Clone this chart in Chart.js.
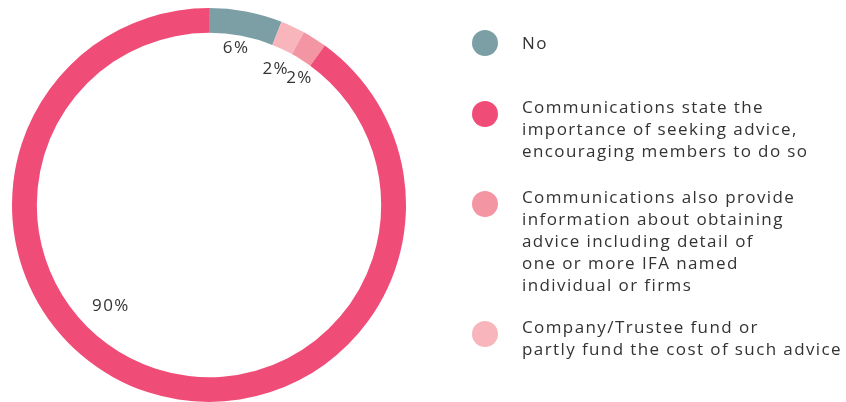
<!DOCTYPE html>
<html>
<head>
<meta charset="utf-8">
<script src="https://cdn.jsdelivr.net/npm/chart.js@4.4.1/dist/chart.umd.min.js"></script>
<style>
  html, body { margin: 0; padding: 0; background: #fff; }
  #wrap { position: relative; width: 846px; height: 402px; overflow: hidden; }
  #adviceChart { position: absolute; left: 0; top: 0; }
  #legend { position: absolute; left: 0; top: 0; width: 846px; height: 402px; pointer-events: none;
    font-family: "Open Sans", sans-serif; font-size: 17px; line-height: 22px; color: #333;
    letter-spacing: 1.4px; }
  .item { position: absolute; left: 472px; width: 374px; }
  .dot { position: absolute; left: 0; width: 26px; height: 26px; border-radius: 50%; }
  .txt { position: absolute; left: 50px; white-space: nowrap; }
</style>
</head>
<body>
<div id="wrap">
  <canvas id="adviceChart" width="846" height="402"></canvas>
  <div id="legend"></div>
</div>
<script>
  "use strict";

  // legend order
  const categories = [
    ["No"],
    ["Communications state the", "importance of seeking advice,", "encouraging members to do so"],
    ["Communications also provide", "information about obtaining", "advice including detail of", "one or more IFA named", "individual or firms"],
    ["Company/Trustee fund or", "partly fund the cost of such advice"]
  ];
  const shares = [6, 90, 2, 2];
  const colors = ["#7b9fa5", "#f04c78", "#f495a3", "#f8b5bc"];

  // order of the slices going clockwise from 12 o'clock
  const ringOrder = [0, 3, 2, 1];

  // per-slice label tweak: [angle shift in degrees, distance inside the hole]
  const labelNudge = [[-1, 13], [26, 31], [3, 16], [1, 21]];

  // first text line centre of each legend entry
  const legendTop = [43, 107, 197, 327];

  const ringLabelPlugin = {
    id: "ringLabels",
    afterDatasetsDraw(chart) {
      const ctx = chart.ctx;
      const arcs = chart.getDatasetMeta(0).data;
      ctx.save();
      ctx.font = "17px 'Open Sans', sans-serif";
      ctx.letterSpacing = "1.4px";
      ctx.fillStyle = "#333";
      ctx.textAlign = "center";
      ctx.textBaseline = "middle";
      arcs.forEach((arc, i) => {
        const idx = ringOrder[i];
        const p = arc.getProps(["x", "y", "startAngle", "endAngle", "innerRadius"], true);
        const a = (p.startAngle + p.endAngle) / 2 + labelNudge[idx][0] * Math.PI / 180;
        const r = p.innerRadius - labelNudge[idx][1];
        ctx.fillText(shares[idx] + "%", p.x + Math.cos(a) * r, p.y + Math.sin(a) * r);
      });
      ctx.restore();
    }
  };

  const canvas = document.getElementById("adviceChart");
  new Chart(canvas.getContext("2d"), {
    type: "doughnut",
    data: {
      labels: ringOrder.map((i) => categories[i].join(" ")),
      datasets: [
        {
          data: ringOrder.map((i) => shares[i]),
          backgroundColor: ringOrder.map((i) => colors[i]),
          borderWidth: 0
        }
      ]
    },
    options: {
      responsive: false,
      animation: false,
      cutout: "87.4%",
      layout: { padding: { left: 12, top: 8, right: 440, bottom: 0 } },
      plugins: {
        legend: { display: false },
        tooltip: { enabled: false }
      }
    },
    plugins: [ringLabelPlugin]
  });

  // legend on the right
  const legend = document.getElementById("legend");
  categories.forEach((lines, i) => {
    const item = document.createElement("div");
    item.className = "item";
    item.style.top = (legendTop[i] - 11) + "px";
    const dot = document.createElement("div");
    dot.className = "dot";
    dot.style.background = colors[i];
    dot.style.top = (lines.length > 1 ? 5 : -2) + "px";
    const txt = document.createElement("div");
    txt.className = "txt";
    txt.innerHTML = lines.join("<br>");
    item.appendChild(dot);
    item.appendChild(txt);
    legend.appendChild(item);
  });
</script>
</body>
</html>
